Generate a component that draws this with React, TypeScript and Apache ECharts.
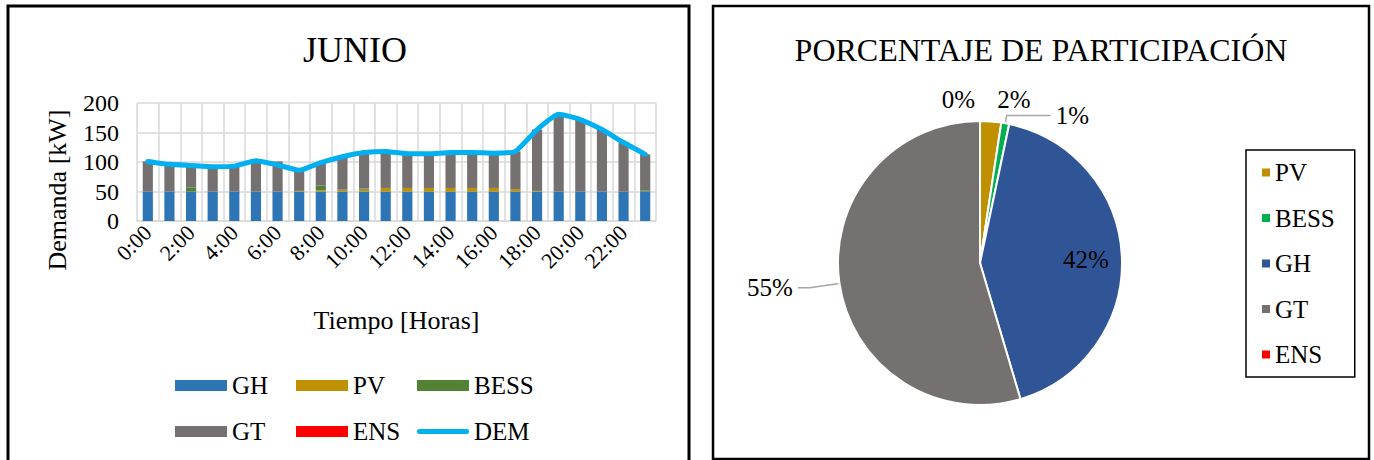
import { useEffect, useRef } from 'react';
import * as echarts from 'echarts';

const hours = ['0:00', '1:00', '2:00', '3:00', '4:00', '5:00', '6:00', '7:00', '8:00', '9:00', '10:00', '11:00',
  '12:00', '13:00', '14:00', '15:00', '16:00', '17:00', '18:00', '19:00', '20:00', '21:00', '22:00', '23:00'];
const gh = [50, 50, 50, 50, 50, 50, 50, 50, 50, 50, 50, 50, 50, 50, 50, 50, 50, 50, 50, 50, 50, 50, 50, 50];
const pv = [0, 0, 0, 0, 0, 0, 0, 1, 2, 3, 3, 6, 6, 6, 6, 6, 6, 4, 1, 0, 0, 0, 0, 0];
const bess = [0, 0, 7, 0, 0, 0, 0, 0, 8, 0, 2, 0, 0, 0, 0, 0, 0, 0, 0, 0, 0, 0, 0, 2];
const gt = [51, 46, 37, 42, 43, 52, 51, 35, 39, 56, 61, 62, 58, 58, 60, 60, 59, 64, 104, 131, 122, 105, 83, 61];
const ens = [0, 0, 0, 0, 0, 0, 0, 0, 0, 0, 0, 0, 0, 0, 0, 0, 0, 0, 0, 0, 0, 0, 0, 0];
const dem = [101, 96, 94, 92, 93, 102, 95, 86, 99, 109, 116, 118, 114, 114, 116, 116, 115, 118, 155, 181, 172, 155, 133, 113];

const pieNames = ['PV', 'BESS', 'GH', 'GT', 'ENS'];
const pieValues = [2.4, 0.9, 42.1, 54.6, 0];

const FONT = "'Liberation Serif', 'Times New Roman', serif";
const barColors: Record<string, string> = { GH: '#2E75B6', PV: '#BF9000', BESS: '#548235', GT: '#767171', ENS: '#FF0000' };
const pieColors = ['#BF9000', '#00B050', '#2F5597', '#767171', '#FF0000'];

const pieLabelCfg = [
  { position: 'outside', line: false, len: 22, len2: 0 },
  { position: 'outside', line: true, len: 8, len2: 44 },
  { position: 'inside', line: false, len: 10, len2: 10 },
  { position: 'outside', line: true, len: 30, len2: 12 },
  { position: 'outside', line: false, len: 22, len2: 0 },
];

export default function App() {
  const ref = useRef<HTMLDivElement>(null);
  useEffect(() => {
    if (!ref.current) return;
    const chart = echarts.init(ref.current, undefined, { renderer: 'svg' });
    const barSeries = [
      { name: 'GH', data: gh },
      { name: 'PV', data: pv },
      { name: 'BESS', data: bess },
      { name: 'GT', data: gt },
      { name: 'ENS', data: ens },
    ].map((s) => ({
      name: s.name,
      type: 'bar',
      stack: 'total',
      data: s.data,
      barWidth: '47%',
      itemStyle: { color: barColors[s.name] },
      xAxisIndex: 0,
      yAxisIndex: 0,
    }));
    const legendText = { fontFamily: FONT, fontSize: 25, color: '#000', lineHeight: 24 };
    const demIcon = 'path://M2.5,0 L49.5,0 A2.5,2.5 0 0 1 49.5,5 L2.5,5 A2.5,2.5 0 0 1 2.5,0 Z';
    const mkLegend = (left: number, data: any[]) => ({
      left,
      top: 368,
      orient: 'vertical',
      itemWidth: 52,
      itemHeight: 11,
      itemGap: 21,
      icon: 'rect',
      textStyle: legendText,
      data,
      selectedMode: false,
    });
    chart.setOption({
      animation: false,
      textStyle: { fontFamily: FONT },
      title: [
        { text: 'JUNIO', left: 350, top: 27, textAlign: 'center', textStyle: { fontFamily: FONT, fontSize: 36, fontWeight: 'normal', color: '#000' } },
        { text: 'PORCENTAJE DE PARTICIPACIÓN', left: 1036, top: 29, textAlign: 'center', textStyle: { fontFamily: FONT, fontSize: 32, fontWeight: 'normal', color: '#000' } },
      ],
      grid: { left: 137, width: 519, top: 103, height: 118, containLabel: false },
      xAxis: {
        type: 'category',
        data: hours,
        boundaryGap: true,
        axisLine: { lineStyle: { color: '#d9d9d9', width: 1.5 } },
        axisTick: { show: false },
        splitLine: { show: true, interval: 0, lineStyle: { color: '#d9d9d9', width: 1.5 } },
        axisLabel: { interval: 1, rotate: 45, fontFamily: FONT, fontSize: 22, color: '#000', margin: 8 },
        name: 'Tiempo [Horas]',
        nameLocation: 'middle',
        nameGap: 86,
        nameTextStyle: { fontFamily: FONT, fontSize: 26, color: '#000' },
      },
      yAxis: {
        type: 'value',
        min: 0,
        max: 200,
        interval: 50,
        axisLine: { show: false },
        axisTick: { show: false },
        splitLine: { lineStyle: { color: '#d9d9d9', width: 1.5 } },
        axisLabel: { fontFamily: FONT, fontSize: 24, color: '#000', margin: 18 },
      },
      legend: [
        mkLegend(170, ['GH', 'GT']),
        mkLegend(291, ['PV', 'ENS']),
        mkLegend(412, ['BESS', { name: 'DEM', icon: demIcon, itemStyle: { color: '#00B0F0' } }]),
        {
          left: 1246,
          top: 150,
          orient: 'vertical',
          itemWidth: 8,
          itemHeight: 8,
          itemGap: 20.5,
          icon: 'rect',
          padding: [10, 20, 10, 16],
          borderColor: '#000',
          borderWidth: 1.5,
          textStyle: legendText,
          selectedMode: false,
          data: pieNames.map((n, i) => ({ name: n, itemStyle: { color: pieColors[i] } })),
        },
      ],
      series: [
        ...barSeries,
        {
          name: 'DEM',
          type: 'line',
          data: dem,
          symbol: 'none',
          smooth: 0.15,
          lineStyle: { color: '#00B0F0', width: 5, cap: 'round', join: 'round' },
          itemStyle: { color: '#00B0F0' },
          z: 5,
        },
        {
          name: 'Participación',
          type: 'pie',
          center: [980, 263],
          radius: 142,
          startAngle: 90,
          clockwise: true,
          avoidLabelOverlap: false,
          itemStyle: { borderColor: '#fff', borderWidth: 2 },
          labelLayout: (p: any) => (p.dataIndex === 2 ? { dx: 32 } : {}),
          data: pieNames.map((n, i) => ({
            name: n,
            value: pieValues[i],
            itemStyle: { color: pieColors[i] },
            label: {
              show: true,
              position: pieLabelCfg[i].position,
              formatter: (p: any) => Math.round(p.percent) + '%',
              fontFamily: FONT,
              fontSize: 25,
              color: '#000',
            },
            labelLine: {
              show: pieLabelCfg[i].line,
              length: pieLabelCfg[i].len,
              length2: pieLabelCfg[i].len2,
              lineStyle: { color: '#a6a6a6', width: 1.5 },
            },
          })),
        },
      ],
      graphic: [
        { type: 'rect', shape: { x: 8, y: 6, width: 681, height: 470 }, style: { fill: 'none', stroke: '#000', lineWidth: 3 } },
        { type: 'rect', shape: { x: 713, y: 6, width: 656, height: 453 }, style: { fill: 'none', stroke: '#000', lineWidth: 2.5 } },
        {
          type: 'text',
          x: 57,
          y: 190,
          rotation: Math.PI / 2,
          style: { text: 'Demanda [kW]', fontFamily: FONT, fontSize: 26, fill: '#000', align: 'center', verticalAlign: 'middle' },
        },
      ],
    });
    return () => chart.dispose();
  }, []);
  return <div ref={ref} style={{ position: 'fixed', left: 0, top: 0, width: 1374, height: 460, background: '#fff' }} />;
}
